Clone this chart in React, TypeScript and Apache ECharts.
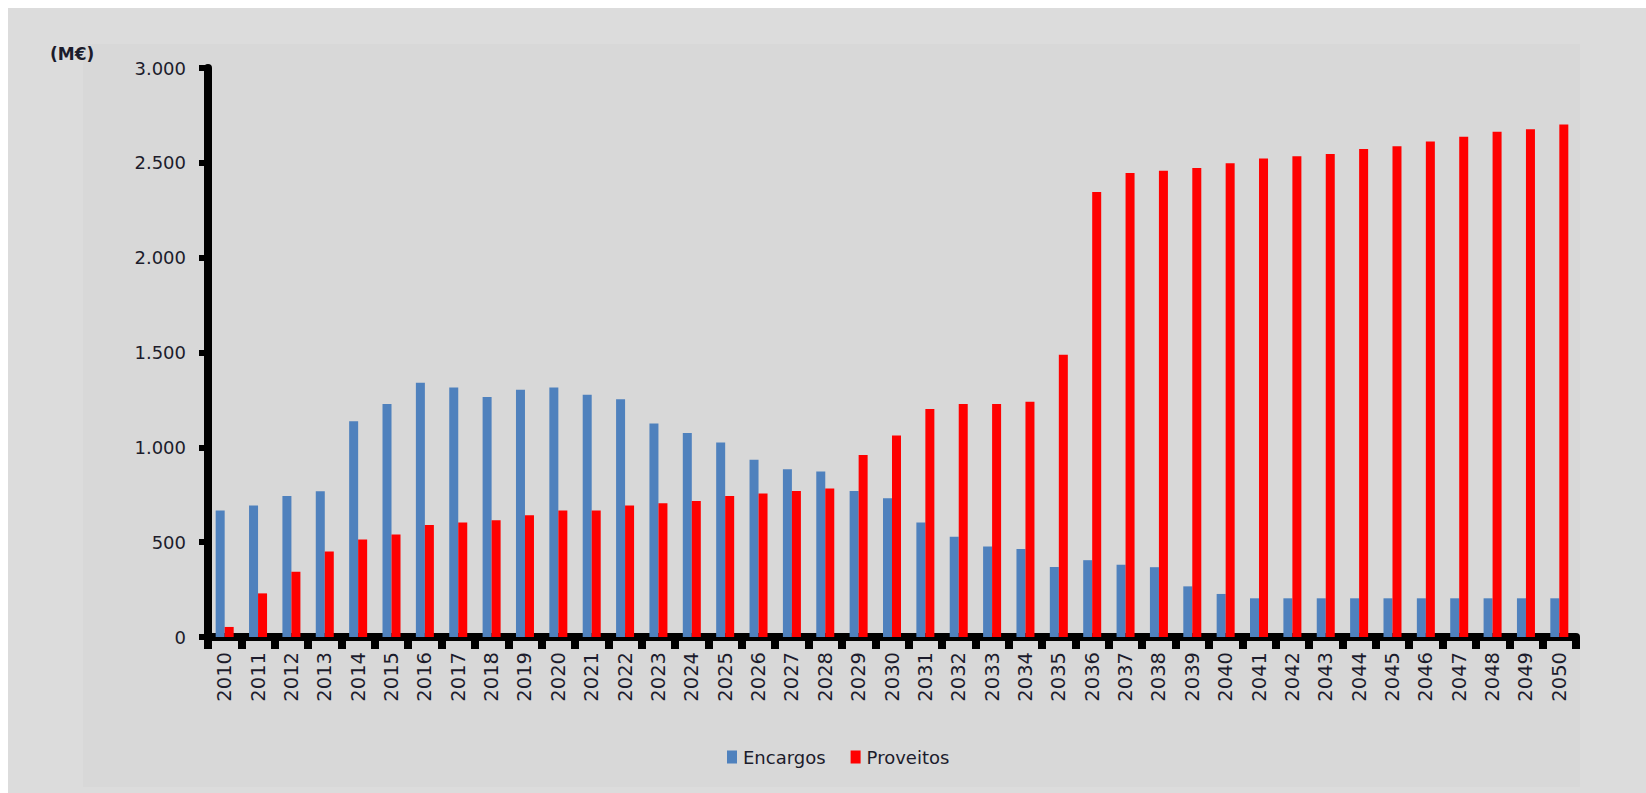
import React, { useEffect, useRef } from "react";
import * as echarts from "echarts";

const years: string[] = [
  "2010","2011","2012","2013","2014","2015","2016","2017","2018","2019",
  "2020","2021","2022","2023","2024","2025","2026","2027","2028","2029",
  "2030","2031","2032","2033","2034","2035","2036","2037","2038","2039",
  "2040","2041","2042","2043","2044","2045","2046","2047","2048","2049","2050",
];

const encargos: number[] = [
  667, 693, 744, 768, 1138, 1228, 1340, 1316, 1265, 1304,
  1316, 1277, 1253, 1126, 1075, 1025, 935, 884, 872, 770,
  732, 604, 528, 477, 464, 369, 405, 381, 368, 267,
  227, 204, 204, 204, 204, 204, 204, 204, 204, 204, 204,
];

const proveitos: number[] = [
  53, 230, 344, 451, 514, 540, 591, 604, 616, 642,
  667, 667, 693, 705, 717, 744, 756, 770, 783, 960,
  1062, 1202, 1228, 1228, 1240, 1488, 2346, 2446, 2458, 2473,
  2498, 2523, 2535, 2547, 2573, 2587, 2612, 2637, 2664, 2677, 2702,
];

const seriesNames = ["Encargos", "Proveitos"];
const unitLabel = "(M€)";

const FONT = "'DejaVu Sans', Verdana, sans-serif";
const TXT = "#1c1c2c";

function fmt(v: number): string {
  return String(v).replace(/\B(?=(\d{3})+(?!\d))/g, ".");
}

export default function App() {
  const ref = useRef<HTMLDivElement>(null);
  useEffect(() => {
    if (!ref.current) return;
    const chart = echarts.init(ref.current, undefined, { renderer: "svg" });
    chart.setOption({
      animation: false,
      backgroundColor: "#dcdcdc",
      textStyle: { fontFamily: FONT },
      graphic: [
        {
          type: "rect",
          z: -10,
          silent: true,
          shape: { x: 75, y: 36, width: 1497, height: 743 },
          style: { fill: "#d8d8d8" },
        },
        {
          type: "text",
          left: 42,
          top: 37,
          style: { text: unitLabel, fontSize: 17, fontFamily: FONT, fill: TXT, fontWeight: "bold" },
        },
      ],
      legend: {
        data: seriesNames,
        left: 714,
        top: 735,
        itemWidth: 10,
        itemHeight: 13,
        itemGap: 25,
        icon: "rect",
        textStyle: { fontSize: 18, color: TXT, fontFamily: FONT, padding: [0, 0, 0, 1] },
      },
      grid: { left: 200, right: 70, top: 60, bottom: 156, containLabel: false },
      xAxis: {
        type: "category",
        data: years,
        axisLine: { lineStyle: { color: "#000", width: 8 } },
        axisTick: { show: true, alignWithLabel: false, length: 12, lineStyle: { color: "#000", width: 8 } },
        axisLabel: { rotate: 90, interval: 0, margin: 15, fontSize: 19.5, color: TXT, fontFamily: FONT },
        splitLine: { show: false },
      },
      yAxis: {
        type: "value",
        min: 0,
        max: 3000,
        interval: 500,
        axisLine: { show: true, lineStyle: { color: "#000", width: 8 } },
        axisTick: { show: true, length: 9, lineStyle: { color: "#000", width: 6 } },
        axisLabel: { formatter: (v: number) => fmt(v), fontSize: 18, color: TXT, margin: 22, fontFamily: FONT },
        splitLine: { show: false },
      },
      series: [
        {
          name: seriesNames[0],
          type: "bar",
          data: encargos,
          barWidth: 9,
          barGap: "0%",
          itemStyle: { color: "#4f81bd" },
        },
        {
          name: seriesNames[1],
          type: "bar",
          data: proveitos,
          barWidth: 9,
          barGap: "0%",
          itemStyle: { color: "#ff0000" },
        },
      ],
    });
    return () => chart.dispose();
  }, []);
  return (
    <div
      ref={ref}
      style={{ position: "absolute", left: 8, top: 8, width: 1638, height: 785, background: "#dcdcdc" }}
    />
  );
}
